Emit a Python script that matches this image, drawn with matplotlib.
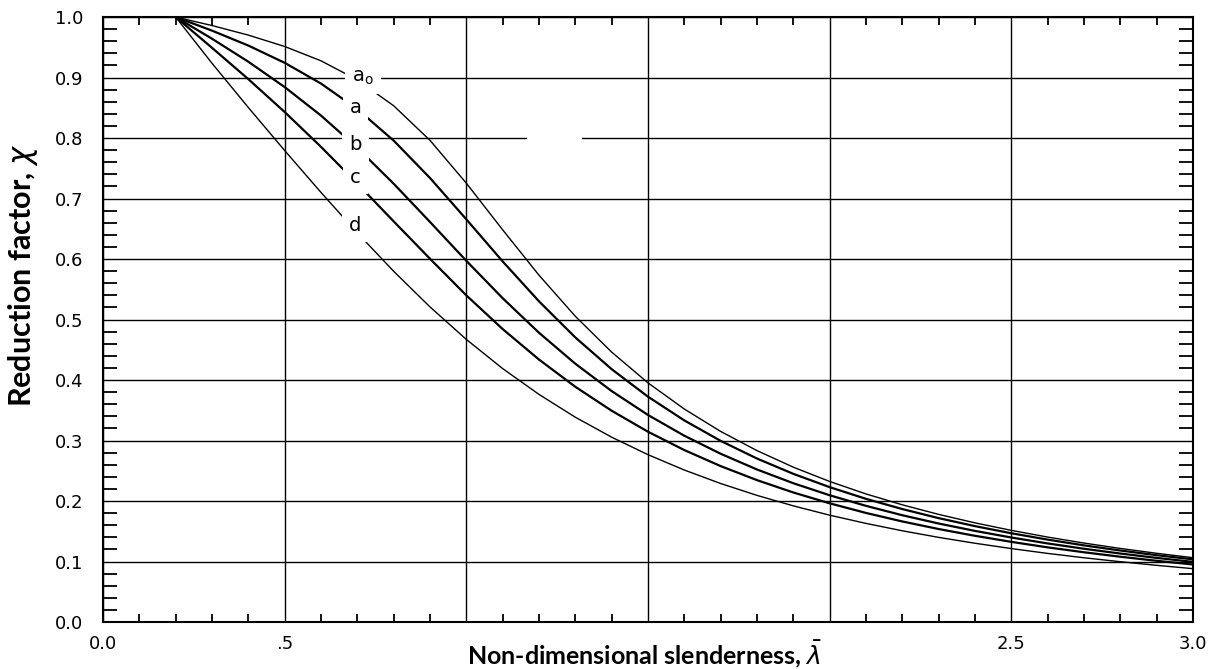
import matplotlib.pyplot as plt
from matplotlib.patches import Rectangle
from matplotlib.ticker import MultipleLocator
import numpy as np

# slenderness values and reduction factors
lam = [0.2, 0.3, 0.4, 0.5, 0.6, 0.7, 0.8, 0.9, 1.0, 1.1, 1.2, 1.3, 1.4, 1.5,
       1.6, 1.7, 1.8, 1.9, 2.0, 2.1, 2.2, 2.3, 2.4, 2.5, 2.6, 2.7, 2.8, 2.9, 3.0]

chi_a0 = [1.0000, 0.9859, 0.9701, 0.9513, 0.9276, 0.8961, 0.8533, 0.7961, 0.7253,
          0.6482, 0.5732, 0.5053, 0.4461, 0.3953, 0.3520, 0.3150, 0.2833, 0.2559,
          0.2323, 0.2117, 0.1937, 0.1779, 0.1639, 0.1515, 0.1404, 0.1305, 0.1216,
          0.1136, 0.1063]
chi_a = [1.0000, 0.9775, 0.9528, 0.9243, 0.8900, 0.8477, 0.7957, 0.7339, 0.6656,
         0.5960, 0.5300, 0.4703, 0.4179, 0.3724, 0.3332, 0.2994, 0.2702, 0.2449,
         0.2229, 0.2036, 0.1867, 0.1717, 0.1585, 0.1467, 0.1362, 0.1267, 0.1182,
         0.1105, 0.1036]
chi_b = [1.0000, 0.9641, 0.9261, 0.8842, 0.8371, 0.7837, 0.7245, 0.6612, 0.5970,
         0.5352, 0.4781, 0.4269, 0.3817, 0.3422, 0.3079, 0.2781, 0.2521, 0.2294,
         0.2095, 0.1920, 0.1765, 0.1628, 0.1506, 0.1397, 0.1299, 0.1211, 0.1132,
         0.1060, 0.0994]
chi_c = [1.0000, 0.9491, 0.8973, 0.8430, 0.7854, 0.7247, 0.6622, 0.6004, 0.5399,
         0.4842, 0.4338, 0.3888, 0.3492, 0.3145, 0.2842, 0.2577, 0.2345, 0.2141,
         0.1962, 0.1803, 0.1662, 0.1537, 0.1425, 0.1325, 0.1234, 0.1153, 0.1079,
         0.1012, 0.0951]
chi_d = [1.0000, 0.9235, 0.8504, 0.7793, 0.7100, 0.6431, 0.5797, 0.5208, 0.4671,
         0.4189, 0.3762, 0.3385, 0.3055, 0.2766, 0.2512, 0.2289, 0.2093, 0.1920,
         0.1766, 0.1630, 0.1508, 0.1399, 0.1302, 0.1214, 0.1134, 0.1062, 0.0997,
         0.0937, 0.0882]

curve_names = [r'a$_\mathrm{o}$', 'a', 'b', 'c', 'd']
label_pos = [(0.715, 0.90), (0.695, 0.851), (0.695, 0.79), (0.695, 0.735), (0.695, 0.655)]
xtick_labels = ['0.0', '.5', '', '', '', '2.5', '3.0']


def main():
    fig = plt.figure(figsize=(12.22, 6.7), dpi=100)
    ax = fig.add_axes([0.0843, 0.0716, 0.892, 0.903])

    series = [chi_a0, chi_a, chi_b, chi_c, chi_d]
    widths = [1.0, 1.6, 1.6, 1.6, 1.0]
    for y, lw in zip(series, widths):
        ax.plot(lam, y, color='black', lw=lw, zorder=3)

    for name, (x, y) in zip(curve_names, label_pos):
        ax.text(x, y, name, ha='center', va='center', fontsize=14, zorder=5,
                bbox=dict(facecolor='white', edgecolor='none', pad=5))

    # blank patch from the scan over the 0.8 grid line
    ax.add_patch(Rectangle((1.167, 0.742), 0.151, 0.141, facecolor='white',
                           edgecolor='none', zorder=2))

    ax.set_xlim(0, 3.0)
    ax.set_ylim(0, 1.0)
    ax.xaxis.set_minor_locator(MultipleLocator(0.1))
    ax.yaxis.set_minor_locator(MultipleLocator(0.02))
    ax.set_xticks(np.arange(0, 3.01, 0.5))
    ax.set_xticklabels(xtick_labels)
    ax.set_yticks(np.arange(0, 1.01, 0.1))
    ax.set_yticklabels(['%.1f' % v for v in np.arange(0, 1.01, 0.1)])

    ax.grid(True, which='major', color='black', lw=1.0, zorder=1)
    ax.set_axisbelow(True)
    for s in ax.spines.values():
        s.set_linewidth(1.5)

    ax.tick_params(which='both', direction='in', top=True, right=True, width=1.3,
                   labelsize=13)
    ax.tick_params(axis='x', which='minor', length=6)
    ax.tick_params(axis='y', which='minor', length=10)
    ax.tick_params(axis='x', which='major', length=0, pad=9)
    ax.tick_params(axis='y', which='major', length=0, pad=14)

    fig.text(644 / 1222, 1 - 654 / 670, r'Non-dimensional slenderness, $\bar{\lambda}$',
             family='Lato', fontweight='bold', fontsize=18, ha='center', va='center')
    fig.text(23 / 1222, 1 - 275 / 670, r'Reduction factor, $\chi$', family='Lato',
             fontweight='bold', fontsize=22, rotation=90, ha='center', va='center')

    fig.savefig('out.png', dpi=100, facecolor='white')


if __name__ == '__main__':
    main()
